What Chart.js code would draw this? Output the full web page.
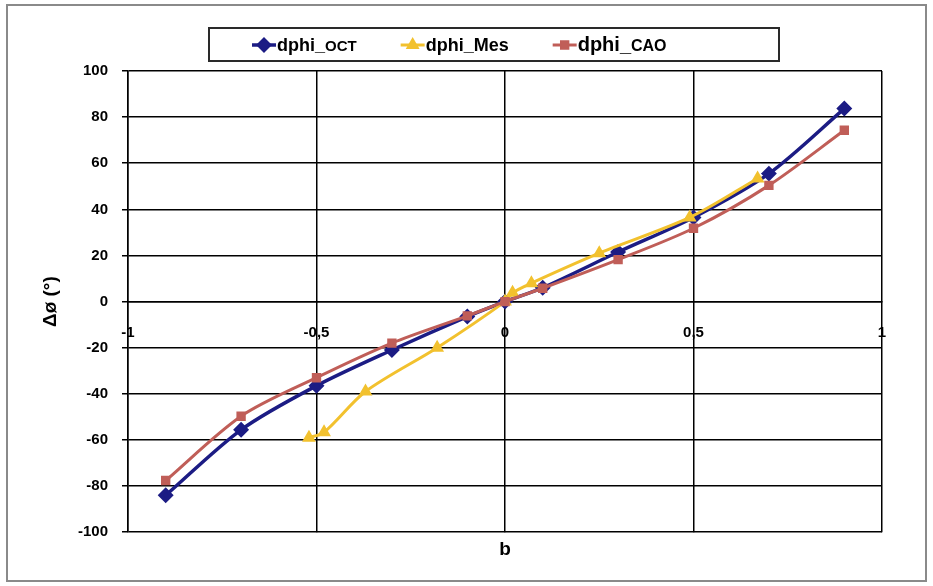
<!DOCTYPE html>
<html>
<head>
<meta charset="utf-8">
<script src="https://cdn.jsdelivr.net/npm/chart.js@4.4.1/dist/chart.umd.min.js"></script>
<style>
  html, body { margin: 0; padding: 0; background: #fff; }
  canvas { display: block; }
</style>
</head>
<body>
<canvas id="phaseChart" width="933" height="586"></canvas>
<script>
// values
const bOct = [-0.9, -0.7, -0.5, -0.3, -0.1, 0, 0.1, 0.3, 0.5, 0.7, 0.9];
const dphiOct = [-84, -55.6, -36.5, -21, -6.5, 0, 6, 21.5, 36.5, 55.5, 83.7];

const bMes = [-0.52, -0.48, -0.37, -0.18, 0, 0.02, 0.07, 0.25, 0.49, 0.67];
const dphiMes = [-59, -56.7, -39, -20, 0, 3.8, 8, 21, 36.5, 53.4];

const bCao = [-0.9, -0.7, -0.5, -0.3, -0.1, 0, 0.1, 0.3, 0.5, 0.7, 0.9];
const dphiCao = [-77.6, -49.7, -33, -18, -6.2, 0, 5.8, 18.2, 31.8, 50.4, 74.3];

const xTickLabels = ['-1', '-0,5', '0', '0,5', '1'];

const FONT = "'Liberation Sans', Arial, sans-serif";

function toPoints(xs, ys) {
    return xs.map((x, i) => ({ x: x, y: ys[i] }));
}

// white background + grey frame round the whole picture
const framePlugin = {
    id: 'frame',
    beforeDraw(chart) {
        const ctx = chart.ctx;
        ctx.save();
        ctx.fillStyle = '#fff';
        ctx.fillRect(0, 0, chart.width, chart.height);
        ctx.strokeStyle = '#8a8a8a';
        ctx.lineWidth = 2;
        ctx.strokeRect(7, 5, chart.width - 14, chart.height - 10);
        ctx.restore();
    }
};

// Excel style legend: boxed, line + marker, smaller suffix text
const boxedLegend = {
    id: 'boxedLegend',
    afterDraw(chart) {
        const ctx = chart.ctx;
        const y = 45;
        ctx.save();
        ctx.fillStyle = '#fff';
        ctx.strokeStyle = '#2a2a2a';
        ctx.lineWidth = 2;
        ctx.fillRect(209, 28, 570, 33);
        ctx.strokeRect(209, 28, 570, 33);

        let x = 252;
        chart.data.datasets.forEach(ds => {
            ctx.strokeStyle = ds.borderColor;
            ctx.lineWidth = ds.borderWidth;
            ctx.beginPath();
            ctx.moveTo(x, y);
            ctx.lineTo(x + 24, y);
            ctx.stroke();
            Chart.helpers.drawPoint(ctx, {
                pointStyle: ds.pointStyle,
                rotation: 0,
                radius: ds.pointRadius,
                borderWidth: 1
            }, x + 12, y);
            ctx.fillStyle = ds.borderColor;
            ctx.fill();

            const parts = ds.label.split('_');
            ctx.fillStyle = '#000';
            ctx.textBaseline = 'alphabetic';
            ctx.font = 'bold ' + ds.legendSize + 'px ' + FONT;
            let tx = x + 25;
            ctx.fillText(parts[0] + '_', tx, y + 6);
            tx += ctx.measureText(parts[0] + '_').width;
            ctx.font = 'bold ' + ds.legendSuffixSize + 'px ' + FONT;
            ctx.fillText(parts[1], tx, y + 6);
            tx += ctx.measureText(parts[1]).width;
            x = tx + 44;
        });
        ctx.restore();
    }
};

const ctx = document.getElementById('phaseChart').getContext('2d');
const phaseChart = new Chart(ctx, {
    type: 'line',
    data: {
        datasets: [{
            label: 'dphi_OCT',
            data: toPoints(bOct, dphiOct),
            borderColor: '#1c1c84',
            backgroundColor: '#1c1c84',
            borderWidth: 3.5,
            pointStyle: 'rectRot',
            pointRadius: 5.5,
            tension: 0.3,
            order: 3,
            legendSize: 18,
            legendSuffixSize: 15
        }, {
            label: 'dphi_Mes',
            data: toPoints(bMes, dphiMes),
            borderColor: '#f2c12e',
            backgroundColor: '#f2c12e',
            borderWidth: 3,
            pointStyle: 'triangle',
            pointRadius: 5,
            tension: 0.3,
            order: 2,
            legendSize: 18,
            legendSuffixSize: 18
        }, {
            label: 'dphi_CAO',
            data: toPoints(bCao, dphiCao),
            borderColor: '#c05e58',
            backgroundColor: '#c05e58',
            borderWidth: 3,
            pointStyle: 'rect',
            pointRadius: 4.5,
            tension: 0.3,
            order: 1,
            legendSize: 20,
            legendSuffixSize: 16
        }]
    },
    options: {
        responsive: false,
        animation: false,
        layout: { padding: { left: 0, right: 51, top: 71, bottom: 0 } },
        plugins: {
            legend: { display: false },
            tooltip: { enabled: false },
            title: {
                display: true,
                position: 'bottom',
                fullSize: false,
                text: 'b',
                color: '#000',
                font: { family: FONT, size: 19, weight: 'bold' },
                padding: { top: 6, bottom: 25 }
            }
        },
        scales: {
            x: {
                type: 'linear',
                position: { y: 0 },
                min: -1,
                max: 1,
                ticks: {
                    stepSize: 0.5,
                    color: '#000',
                    padding: 22,
                    font: { family: FONT, size: 15, weight: 'bold' },
                    callback: (v, i) => xTickLabels[i]
                },
                grid: { color: '#000', lineWidth: 1.5, drawTicks: false },
                border: { display: true, color: '#000', width: 1.5 }
            },
            y: {
                min: -100,
                max: 100,
                afterFit: scale => { scale.width = 128; },
                ticks: {
                    stepSize: 20,
                    color: '#000',
                    padding: 14,
                    font: { family: FONT, size: 15, weight: 'bold' }
                },
                grid: { color: '#000', lineWidth: 1.5, tickLength: 6 },
                border: { display: true, color: '#000', width: 1.5 },
                title: {
                    display: true,
                    text: 'Δø (°)',
                    color: '#000',
                    font: { family: FONT, size: 19, weight: 'bold' },
                    padding: { top: 39, bottom: 0 }
                }
            }
        }
    },
    plugins: [framePlugin, boxedLegend]
});
</script>
</body>
</html>
